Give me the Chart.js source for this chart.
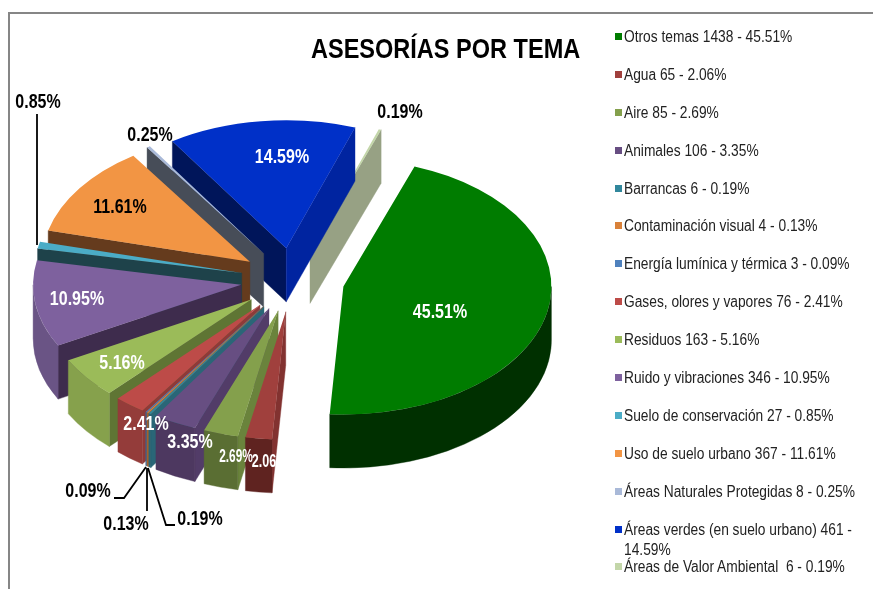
<!DOCTYPE html>
<html lang="es">
<head>
<meta charset="utf-8">
<title>Asesorías por tema</title>
<script src="https://cdn.jsdelivr.net/npm/chart.js@4"></script>
<style>
  html, body { margin: 0; background: #fff; overflow: hidden; }
  body { width: 873px; height: 589px; position: relative; font-family: 'Liberation Sans', sans-serif; }
  #frame { position: absolute; left: 8px; top: 12px; width: 900px; height: 700px; border: 2px solid #868686; }
  canvas { position: absolute; left: 0; top: 0; }
  #title { position: absolute; left: 311px; top: 31px; font-weight: bold; font-size: 28px; line-height: 36px; color: #000; white-space: nowrap; transform: scaleX(0.84); transform-origin: left; }
  #legend { position: absolute; left: 615px; top: 27px; width: 252px; }
  .row { height: 37.9px; position: relative; font-size: 16px; line-height: 20px; color: #222; }
  .row i { position: absolute; left: 0; top: 6px; width: 7px; height: 7px; }
  .row span { position: absolute; left: 9px; width: 275px; white-space: pre-wrap; transform: scaleX(0.86); transform-origin: left top; }
</style>
</head>
<body>
<div id="frame"></div>
<canvas id="chart" width="873" height="589"></canvas>
<div id="title">ASESORÍAS POR TEMA</div>
<div id="legend"></div>
<script>
const categories = ['Otros temas', 'Agua', 'Aire', 'Animales', 'Barrancas', 'Contaminación visual',
  'Energía lumínica y térmica', 'Gases, olores y vapores', 'Residuos', 'Ruido y vibraciones',
  'Suelo de conservación', 'Uso de suelo urbano', 'Áreas Naturales Protegidas',
  'Áreas verdes (en suelo urbano)', 'Áreas de Valor Ambiental '];
const values   = [1438, 65, 85, 106, 6, 4, 3, 76, 163, 346, 27, 367, 8, 461, 6];
const percents = ['45.51', '2.06', '2.69', '3.35', '0.19', '0.13', '0.09', '2.41', '5.16', '10.95', '0.85', '11.61', '0.25', '14.59', '0.19'];

// colores: cara superior, borde curvo y pared radial
const topColors  = ['#007c00', '#a0403d', '#84a04c', '#674e82', '#31879c', '#d98139', '#4f81bd', '#bd4b48', '#9bbb59', '#7e619e', '#4bacc6', '#f29544', '#a9b9d8', '#0030c8', '#c3d6a9'];
const rimColors  = ['#003000', '#5f2320', '#5a6e33', '#4d3860', '#2a6677', '#a8642a', '#3c6390', '#943c3a', '#86a14c', '#6a5485', '#1e424a', '#653b1d', '#474d58', '#0024a0', '#97a184'];
const wallColors = ['#003000', '#823230', '#6a833c', '#523c68', '#2a6677', '#a8642a', '#3c6390', '#8f3a38', '#5f7534', '#3e2c4d', '#1e424a', '#653b1d', '#474d58', '#00155a', '#97a184'];

// orden de pintado: de atrás hacia adelante
const drawOrder = [14, 13, 12, 11, 10, 9, 8, 7, 6, 5, 4, 3, 2, 1, 0];

const squash  = 0.615; // aplastamiento vertical del pastel
const explode = 52;    // separación de cada rebanada
const depth   = 53.5 / squash;

// etiquetas: [índice, x, y, color, tamaño, ancho]
const sliceLabels = [
  [0, 440, 312, '#fff', 20, 0.8], [13, 282, 157, '#fff', 20, 0.8], [11, 120, 207, '#000', 20, 0.8],
  [9, 77, 299, '#fff', 20, 0.8], [8, 122, 363, '#fff', 20, 0.8], [7, 146, 424, '#fff', 20, 0.8],
  [3, 190, 442, '#fff', 20, 0.8], [2, 236, 457, '#fff', 18, 0.66], [1, 264, 462, '#fff', 18, 0.7],
  [10, 38, 102, '#000', 20, 0.8], [12, 150, 135, '#000', 20, 0.8], [14, 400, 112, '#000', 20, 0.8],
  [6, 88, 491, '#000', 20, 0.8], [5, 126, 524, '#000', 20, 0.8], [4, 200, 519, '#000', 20, 0.8],
];
const leaders = [
  [[37, 114], [37, 245]],
  [[114, 498], [124, 498], [146, 467]],
  [[147, 468], [147, 511]],
  [[148, 468], [166, 525], [175, 525]],
];

function drawSlice(ctx, arc, i) {
  const { x, y, startAngle: a0, endAngle: a1, outerRadius: r } = arc.getProps(['x', 'y', 'startAngle', 'endAngle', 'outerRadius']);
  const mid = (a0 + a1) / 2;
  ctx.save();
  ctx.translate(Math.cos(mid) * explode, Math.sin(mid) * explode);

  const wall = (a, color) => {
    ctx.fillStyle = color;
    ctx.strokeStyle = color;
    ctx.lineWidth = 0.5;
    ctx.beginPath();
    ctx.moveTo(x, y);
    ctx.lineTo(x + Math.cos(a) * r, y + Math.sin(a) * r);
    ctx.lineTo(x + Math.cos(a) * r, y + Math.sin(a) * r + depth);
    ctx.lineTo(x, y + depth);
    ctx.closePath();
    ctx.fill();
    ctx.stroke();
  };
  if (Math.cos(a0) < 0) wall(a0, wallColors[i]);
  if (Math.cos(a1) > 0) wall(a1, rimColors[i]);

  // borde curvo: sólo la mitad de abajo se ve
  [0, 2 * Math.PI].forEach(shift => {
    const from = Math.max(a0, shift);
    const to = Math.min(a1, shift + Math.PI);
    if (to <= from) return;
    ctx.fillStyle = rimColors[i];
    ctx.strokeStyle = rimColors[i];
    ctx.lineWidth = 0.5;
    ctx.beginPath();
    ctx.arc(x, y, r, from, to);
    ctx.arc(x, y + depth, r, to, from, true);
    ctx.closePath();
    ctx.fill();
    ctx.stroke();
  });

  arc.draw(ctx);
  ctx.restore();
}

const pie3d = {
  id: 'pie3d',
  beforeDatasetDraw(chart, args) {
    const ctx = chart.ctx;
    const cy = (chart.chartArea.top + chart.chartArea.bottom) / 2;
    ctx.save();
    ctx.translate(0, cy);
    ctx.scale(1, squash);
    ctx.translate(0, -cy);
    drawOrder.forEach(i => drawSlice(ctx, args.meta.data[i], i));
    ctx.restore();
    return false;
  },
  afterDraw(chart) {
    const ctx = chart.ctx;
    ctx.save();
    ctx.strokeStyle = '#000';
    ctx.lineWidth = 1.8;
    leaders.forEach(pts => {
      ctx.beginPath();
      pts.forEach((p, k) => k ? ctx.lineTo(p[0], p[1]) : ctx.moveTo(p[0], p[1]));
      ctx.stroke();
    });
    ctx.textAlign = 'center';
    ctx.textBaseline = 'middle';
    sliceLabels.forEach(([i, x, y, color, size, sx]) => {
      ctx.save();
      ctx.translate(x, y);
      ctx.scale(sx, 1);
      ctx.font = `bold ${size}px 'Liberation Sans', sans-serif`;
      ctx.fillStyle = color;
      ctx.fillText(i === 1 ? percents[i] : percents[i] + '%', 0, 0);
      ctx.restore();
    });
    ctx.restore();
  },
};

new Chart(document.getElementById('chart'), {
  type: 'pie',
  data: {
    labels: categories,
    datasets: [{ data: values, backgroundColor: topColors, borderWidth: 0 }],
  },
  options: {
    responsive: false,
    animation: false,
    rotation: 20,
    radius: 208,
    layout: { padding: { right: 288, bottom: 29 } },
    plugins: { legend: { display: false }, tooltip: { enabled: false } },
  },
  plugins: [pie3d],
});

// leyenda
const legend = document.getElementById('legend');
categories.forEach((name, i) => {
  const row = document.createElement('div');
  row.className = 'row';
  row.innerHTML = `<i style="background:${topColors[i]}"></i><span></span>`;
  row.querySelector('span').textContent = `${name} ${values[i]} - ${percents[i]}%`;
  legend.appendChild(row);
});
</script>
</body>
</html>
